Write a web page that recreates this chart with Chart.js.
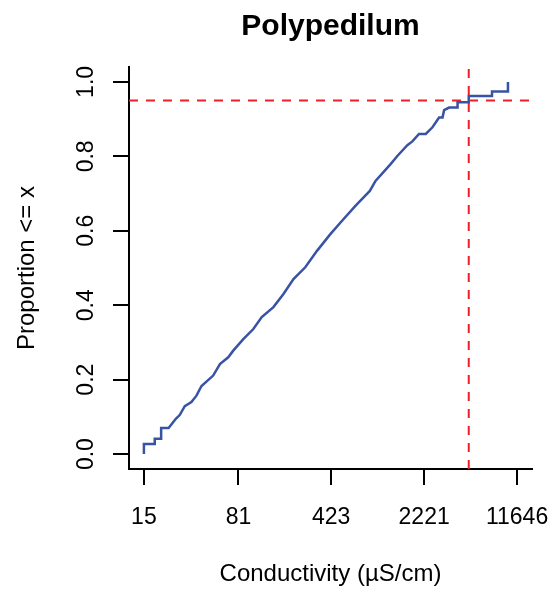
<!DOCTYPE html>
<html>
<head>
<meta charset="utf-8">
<script src="https://cdn.jsdelivr.net/npm/chart.js"></script>
<style>
  body { margin: 0; background: #fff; }
  #wrap { width: 557px; height: 591px; }
</style>
</head>
<body>
<div id="wrap"><canvas id="myChart"></canvas></div>

<script>
    // ECDF of conductivity (steps are doubled points)
    const conductivity = [15, 15, 18.2, 18.2, 20.4, 20.4, 23.3, 26.5, 28.4, 31.1,
        35.0, 38.3, 41.9, 51.6, 58.2, 67.5, 73.8, 88.3, 105.6, 122.7,
        151.1, 180.7, 216.1, 266.6, 328.6, 417, 514, 652, 843, 933,
        1221, 1377, 1646, 1800, 2026, 2285, 2576, 2899, 3082, 3171,
        3467, 4030, 4030, 4920, 4920, 7450, 7450, 9900, 9900];
    const proportion = [0, 0.027, 0.027, 0.041, 0.041, 0.070, 0.070, 0.095, 0.105, 0.129,
        0.140, 0.157, 0.183, 0.211, 0.242, 0.260, 0.278, 0.309, 0.336, 0.368,
        0.395, 0.430, 0.470, 0.502, 0.546, 0.591, 0.627, 0.667, 0.707, 0.734,
        0.779, 0.801, 0.830, 0.840, 0.860, 0.860, 0.878, 0.904, 0.904, 0.924,
        0.931, 0.931, 0.945, 0.945, 0.962, 0.962, 0.974, 0.974, 1.0];

    const xTickValues = [15, 81, 423, 2221, 11646];
    const yTickValues = [0, 0.2, 0.4, 0.6, 0.8, 1.0];

    const cutX = 4920;   // 95th percentile
    const cutY = 0.95;

    const chartTitle = 'Polypedilum';
    const xTitle = 'Conductivity (µS/cm)';
    const yTitle = 'Proportion <= x';

    const xMin = 11.5, xMax = 15200;
    const yMin = -0.04, yMax = 1.04;

    const FONT = '"Liberation Sans", Arial, Helvetica, sans-serif';

    const labelPlugin = {
        id: 'rLabels',
        afterDraw(chart) {
            const ctx = chart.ctx;
            const area = chart.chartArea;
            const xs = chart.scales.x;
            const ys = chart.scales.y;
            const cx = (area.left + area.right) / 2;
            const cy = (area.top + area.bottom) / 2;
            ctx.save();
            ctx.fillStyle = '#000';
            ctx.textAlign = 'center';
            ctx.textBaseline = 'alphabetic';

            ctx.font = 'bold 30px ' + FONT;
            ctx.fillText(chartTitle, cx, 35);

            ctx.font = '23px ' + FONT;
            xs.ticks.forEach(t => {
                ctx.fillText(String(t.value), xs.getPixelForValue(t.value), 524);
            });
            ys.ticks.forEach(t => {
                ctx.save();
                ctx.translate(92.5, ys.getPixelForValue(t.value));
                ctx.rotate(-Math.PI / 2);
                ctx.fillText(t.value.toFixed(1), 0, 0);
                ctx.restore();
            });

            ctx.font = '24px ' + FONT;
            ctx.fillText(xTitle, cx, 581);
            ctx.save();
            ctx.translate(34, cy);
            ctx.rotate(-Math.PI / 2);
            ctx.fillText(yTitle, 0, 0);
            ctx.restore();

            ctx.restore();
        }
    };

    const ecdfPoints = conductivity.map((v, i) => ({ x: v, y: proportion[i] }));

    const ctx = document.getElementById('myChart');
    myChart = new Chart(ctx, {
        type: 'line',
        data: {
            datasets: [
                {
                    label: 'cut y',
                    data: [{ x: xMin, y: cutY }, { x: xMax, y: cutY }],
                    borderColor: '#EE1F26',
                    borderWidth: 2,
                    borderDash: [9, 8],
                    pointRadius: 0
                },
                {
                    label: 'cut x',
                    data: [{ x: cutX, y: yMin }, { x: cutX, y: yMax }],
                    borderColor: '#EE1F26',
                    borderWidth: 2,
                    borderDash: [9, 8],
                    pointRadius: 0
                },
                {
                    label: chartTitle,
                    data: ecdfPoints,
                    borderColor: '#3953A4',
                    borderWidth: 2.5,
                    pointRadius: 0,
                    tension: 0
                }
            ]
        },
        options: {
            responsive: true,
            maintainAspectRatio: false,
            animation: false,
            layout: { padding: { top: 67, right: 25, left: 0, bottom: 0 } },
            plugins: {
                legend: { display: false },
                tooltip: { enabled: false },
                title: { display: false }
            },
            scales: {
                x: {
                    type: 'logarithmic',
                    min: xMin,
                    max: xMax,
                    afterBuildTicks: s => { s.ticks = xTickValues.map(v => ({ value: v })); },
                    afterFit: s => { s.height = 122; },
                    ticks: { display: false },
                    grid: { drawOnChartArea: false, tickLength: 16, color: '#000', lineWidth: 2 },
                    border: { display: true, color: '#000', width: 2 }
                },
                y: {
                    type: 'linear',
                    min: yMin,
                    max: yMax,
                    afterBuildTicks: s => { s.ticks = yTickValues.map(v => ({ value: v })); },
                    afterFit: s => { s.width = 129; },
                    ticks: { display: false },
                    grid: { drawOnChartArea: false, tickLength: 16, color: '#000', lineWidth: 2 },
                    border: { display: true, color: '#000', width: 2 }
                }
            }
        },
        plugins: [labelPlugin]
    });
</script>
</body>
</html>
